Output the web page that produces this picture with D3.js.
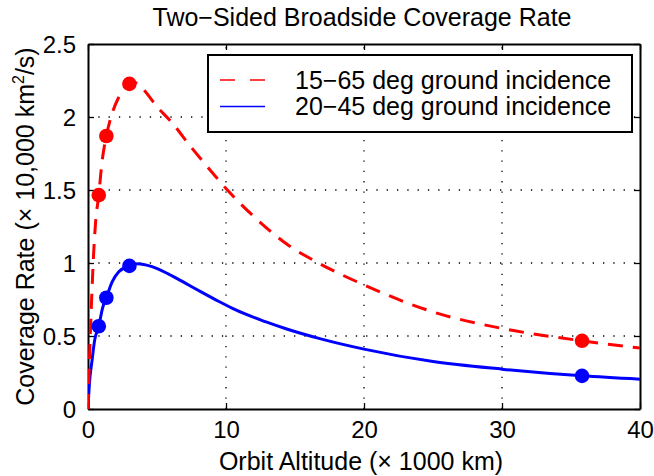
<!DOCTYPE html>
<html>
<head>
<meta charset="utf-8">
<script src="https://cdn.jsdelivr.net/npm/d3@7.9.0/dist/d3.min.js"></script>
<style>
  body { margin: 0; background: #fff; }
  svg text { font-family: "Liberation Sans", Arial, Helvetica, sans-serif; fill: #000; }
</style>
</head>
<body>
<svg id="chart" width="654" height="476"></svg>
<script>
// curve (altitude in 1000 km, rate in 10,000 km^2/s)
const wideAlt  = [0, 0.1, 0.25, 0.4, 0.55, 0.78, 1.0, 1.33, 1.7, 2.2, 3.0, 3.4, 4.0, 5.0, 6.0, 7.5, 9.0, 10, 12, 14.4, 16.8, 20, 25, 30, 35.8, 40];
const wideRate = [0, 0.32, 0.72, 1.05, 1.28, 1.465, 1.68, 1.87, 2.01, 2.13, 2.227, 2.235, 2.19, 2.07, 1.97, 1.79, 1.62, 1.51, 1.32, 1.13, 0.995, 0.85, 0.665, 0.552, 0.467, 0.417];

const narrowAlt  = [0, 0.1, 0.29, 0.48, 0.78, 1.05, 1.33, 1.75, 2.23, 3.0, 3.55, 4.64, 5.84, 7.05, 8.26, 9.46, 10.67, 12.85, 14.4, 16.8, 20, 25, 30, 35.8, 40];
const narrowRate = [0, 0.17, 0.33, 0.47, 0.567, 0.69, 0.762, 0.87, 0.94, 0.98, 0.995, 0.975, 0.924, 0.862, 0.799, 0.738, 0.68, 0.598, 0.548, 0.482, 0.41, 0.325, 0.273, 0.227, 0.204];

// marked orbits
const markAlt        = [0.78, 1.33, 3.0, 35.8];
const wideMarkRate   = [1.465, 1.87, 2.227, 0.467];
const narrowMarkRate = [0.567, 0.762, 0.98, 0.227];

const xTicks = [0, 10, 20, 30, 40];
const yTicks = [0, 0.5, 1, 1.5, 2, 2.5];
const legendLabels = ["15\u221265 deg ground incidence", "20\u221245 deg ground incidence"];

const svg = d3.select("#chart");
const margin = { left: 88, right: 14, top: 44, bottom: 67 };
const W = 654, H = 476;

const x = d3.scaleLinear().domain([0, 40]).range([margin.left, W - margin.right]);
const y = d3.scaleLinear().domain([0, 2.5]).range([H - margin.bottom, margin.top]);

// grid
const grid = svg.append("g").attr("stroke", "#000").attr("stroke-width", 1.3)
  .attr("stroke-dasharray", "1.3,9");
xTicks.slice(1, -1).forEach(t => {
  grid.append("line").attr("x1", x(t)).attr("x2", x(t)).attr("y1", y(0)).attr("y2", y(2.5));
});
yTicks.slice(1, -1).forEach(t => {
  grid.append("line").attr("x1", x(0)).attr("x2", x(40)).attr("y1", y(t)).attr("y2", y(t));
});

// axes, ticks pointing inward, box all round
const axB = svg.append("g").attr("transform", `translate(0,${y(0)})`)
  .call(d3.axisBottom(x).tickValues(xTicks).tickSizeInner(-6).tickSizeOuter(0).tickPadding(12));
const axT = svg.append("g").attr("transform", `translate(0,${y(2.5)})`)
  .call(d3.axisTop(x).tickValues(xTicks).tickSizeInner(-6).tickSizeOuter(0).tickFormat(""));
const axL = svg.append("g").attr("transform", `translate(${x(0)},0)`)
  .call(d3.axisLeft(y).tickValues(yTicks).tickSizeInner(-6).tickSizeOuter(0).tickPadding(12)
    .tickFormat(d3.format("")));
const axR = svg.append("g").attr("transform", `translate(${x(40)},0)`)
  .call(d3.axisRight(y).tickValues(yTicks).tickSizeInner(-6).tickSizeOuter(0).tickFormat(""));

[axB, axT, axL, axR].forEach(a => {
  a.select(".domain").attr("stroke", "#000").attr("stroke-width", 2);
  a.selectAll(".tick line").attr("stroke", "#000").attr("stroke-width", 1.3);
  a.selectAll("text").style("font-size", "24px").attr("fill", "#000");
});
axB.selectAll("text").attr("dy", "0.72em").attr("y", 12);
axL.selectAll("text").attr("dy", "0.36em");

// curves
svg.append("clipPath").attr("id", "plotclip").append("rect")
  .attr("x", x(0)).attr("y", y(2.5)).attr("width", x(40) - x(0)).attr("height", y(0) - y(2.5));

const line = d3.line().x(d => x(d[0])).y(d => y(d[1])).curve(d3.curveMonotoneX);
const wide = d3.zip(wideAlt, wideRate);
const narrow = d3.zip(narrowAlt, narrowRate);

const plot = svg.append("g").attr("clip-path", "url(#plotclip)");
plot.append("path").attr("d", line(narrow)).attr("fill", "none")
  .attr("stroke", "#0000ff").attr("stroke-width", 3);
plot.append("path").attr("d", line(wide)).attr("fill", "none")
  .attr("stroke", "#ff0000").attr("stroke-width", 3).attr("stroke-dasharray", "15,10");

svg.append("g").selectAll("circle").data(d3.zip(markAlt, wideMarkRate)).join("circle")
  .attr("cx", d => x(d[0])).attr("cy", d => y(d[1])).attr("r", 7.3).attr("fill", "#ff0000");
svg.append("g").selectAll("circle").data(d3.zip(markAlt, narrowMarkRate)).join("circle")
  .attr("cx", d => x(d[0])).attr("cy", d => y(d[1])).attr("r", 7.3).attr("fill", "#0000ff");

// legend
const lg = svg.append("g");
lg.append("rect").attr("x", 208).attr("y", 55).attr("width", 424).attr("height", 77)
  .attr("fill", "#fff").attr("stroke", "#000").attr("stroke-width", 2);
const legendColors = ["#ff0000", "#0000ff"];
const legendDash = ["15,15", null];
legendLabels.forEach((lab, i) => {
  const ly = 80 + i * 26.5;
  lg.append("line").attr("x1", 220).attr("x2", 265).attr("y1", ly).attr("y2", ly)
    .attr("stroke", legendColors[i]).attr("stroke-width", 1.6)
    .attr("stroke-dasharray", legendDash[i]);
  lg.append("text").attr("x", 295).attr("y", ly + 8.5).style("font-size", "25px").text(lab);
});

// titles
svg.append("text").attr("x", 362).attr("y", 26).attr("text-anchor", "middle")
  .style("font-size", "25px").text("Two\u2212Sided Broadside Coverage Rate");
svg.append("text").attr("x", 361).attr("y", 470).attr("text-anchor", "middle")
  .style("font-size", "25px").text("Orbit Altitude (\u00d7 1000 km)");
const yl = svg.append("text").attr("transform", `translate(34,${(y(0) + y(2.5)) / 2}) rotate(-90)`)
  .attr("text-anchor", "middle").style("font-size", "25px");
yl.append("tspan").text("Coverage Rate (\u00d7 10,000 km");
yl.append("tspan").attr("dy", -10).style("font-size", "16px").text("2");
yl.append("tspan").attr("dy", 10).text("/s)");
</script>
</body>
</html>
